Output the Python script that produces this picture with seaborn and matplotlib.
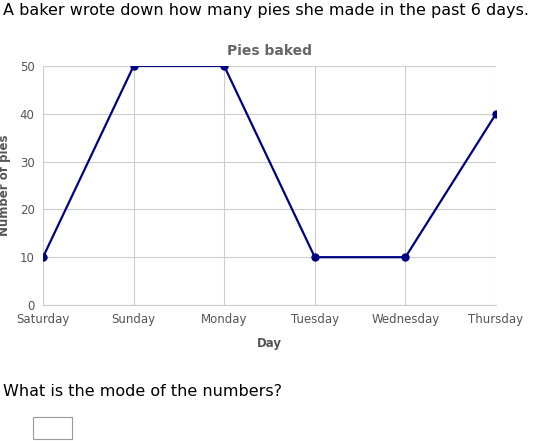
import matplotlib
matplotlib.use("Agg")
import matplotlib.pyplot as plt
import seaborn as sns
import pandas as pd
from matplotlib.patches import Rectangle

days = ["Saturday", "Sunday", "Monday", "Tuesday", "Wednesday", "Thursday"]
pies = [10, 50, 50, 10, 10, 40]
yticks = [0, 10, 20, 30, 40, 50]

sns.set_style("white")
plt.rcParams['font.family'] = ['DejaVu Sans']
df = pd.DataFrame({"Day": days, "Pies": pies})

fig = plt.figure(figsize=(5.35, 4.41), dpi=100)
ax = fig.add_axes([43/535, 1-305/441, 453/535, 239/441])
sns.lineplot(data=df, x="Day", y="Pies", sort=False, color="#000080", marker="o",
             markersize=6, markeredgewidth=0, linewidth=1.6, ax=ax, zorder=3)
ax.set_xlim(0, 5)
ax.set_ylim(0, 50)
ax.set_yticks(yticks)
ax.grid(True, color="#cccccc", linewidth=0.8)
for s in ax.spines.values():
    s.set_visible(False)
ax.spines['bottom'].set_visible(True)
ax.spines['bottom'].set_color("#cccccc")
ax.tick_params(axis='both', labelsize=8.5, colors="#555555", length=0, pad=6)
ax.set_xlabel("Day", fontsize=8.5, fontweight="bold", color="#555555", labelpad=8)
ax.set_ylabel("Number of pies", fontsize=8.5, fontweight="bold", color="#555555", labelpad=6)
ax.set_title("Pies baked", fontsize=10, fontweight="bold", color="#666666", pad=8)
for lab in ax.get_xticklabels():
    lab.set_color("#555555")

fig.text(3/535, 1-10/441, "A baker wrote down how many pies she made in the past 6 days.",
         fontsize=11.5, va="center", ha="left", color="black")
fig.text(3/535, 1-392/441, "What is the mode of the numbers?",
         fontsize=11.5, va="center", ha="left", color="black")
fig.patches.append(Rectangle((33/535, 1-439/441), 39/535, 22/441, transform=fig.transFigure,
                             fill=False, edgecolor="#999999", linewidth=0.8))
fig.savefig("out.png", dpi=100)
